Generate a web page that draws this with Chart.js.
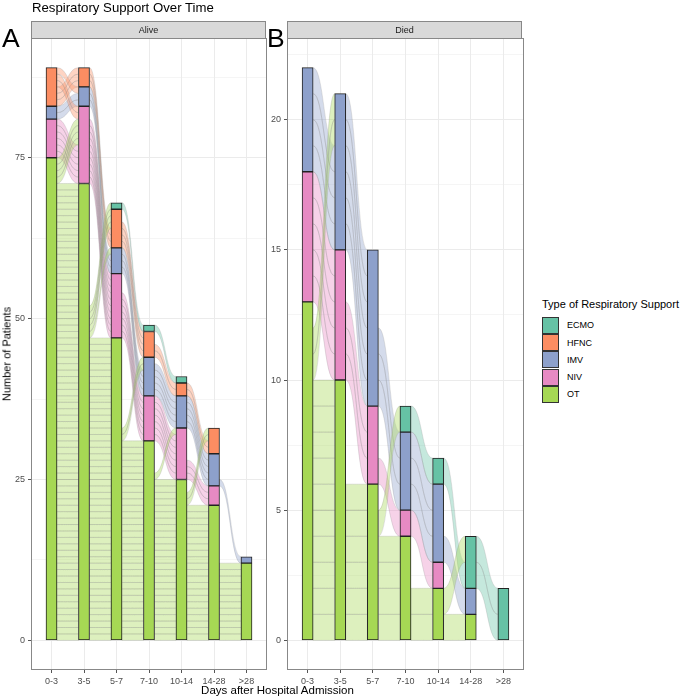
<!DOCTYPE html>
<html>
<head>
<meta charset="utf-8">
<script src="https://cdn.jsdelivr.net/npm/chart.js@4.4.1/dist/chart.umd.min.js"></script>
<style>
body { margin: 0; background: #fff; font-family: "Liberation Sans", Arial, sans-serif; }
#wrap { position: relative; width: 693px; height: 700px; overflow: hidden; }
.abs { position: absolute; line-height: 1; white-space: nowrap; }
.strip { position: absolute; top: 21px; height: 18px; width: 235px; box-sizing: border-box;
  background: #d9d9d9; border: 1px solid #888; display: flex; align-items: center;
  justify-content: center; font-size: 9px; color: #1a1a1a; }
.tag { font-size: 26.5px; color: #000; }
.key { position: absolute; left: 542px; width: 17px; height: 17px; box-sizing: border-box; border: 1px solid #333; }
.keylab { position: absolute; left: 567px; height: 17px; display: flex; align-items: center; font-size: 9px; color: #000; }
canvas { position: absolute; top: 0; }
</style>
</head>
<body>
<div id="wrap">
  <canvas id="alive" width="272" height="700" style="left:0px"></canvas>
  <canvas id="died" width="272" height="700" style="left:256px"></canvas>
  <div class="abs" style="left:32px;top:1.3px;font-size:13.2px;color:#000">Respiratory Support Over Time</div>
  <div class="abs tag" style="left:2px;top:24.5px">A</div>
  <div class="abs tag" style="left:267px;top:24.5px">B</div>
  <div class="strip" style="left:31px">Alive</div>
  <div class="strip" style="left:287px">Died</div>
  <div class="abs" style="left:7px;top:354px;font-size:11px;transform:translate(-50%,-50%) rotate(-90deg)">Number of Patients</div>
  <div class="abs" style="left:277.5px;top:685.3px;font-size:11.5px;transform:translateX(-50%)">Days after Hospital Admission</div>
  <div id="legend"></div>
</div>
<script>
const categories = ['0-3', '3-5', '5-7', '7-10', '10-14', '14-28', '>28'];
const supportTypes = ['OT', 'NIV', 'IMV', 'HFNC', 'ECMO']; // bottom to top
const legendTypes = ['ECMO', 'HFNC', 'IMV', 'NIV', 'OT'];
const typeColors = { ECMO: '#66C2A5', HFNC: '#FC8D62', IMV: '#8DA0CB', NIV: '#E78AC3', OT: '#A6D854' };

// Alive panel
const aliveOT   = [75, 71, 47, 31, 25, 21, 12];
const aliveNIV  = [6, 12, 10, 7, 8, 3, 0];
const aliveIMV  = [2, 3, 4, 6, 5, 5, 1];
const aliveHFNC = [6, 3, 6, 4, 2, 4, 0];
const aliveECMO = [0, 0, 1, 1, 1, 0, 0];

// Died panel
const diedOT   = [13, 10, 6, 4, 2, 1, 0];
const diedNIV  = [5, 5, 3, 1, 1, 0, 0];
const diedIMV  = [4, 6, 6, 3, 3, 1, 0];
const diedHFNC = [0, 0, 0, 0, 0, 0, 0];
const diedECMO = [0, 0, 0, 1, 1, 2, 2];

const aliveMajorTicks = [0, 25, 50, 75];
const aliveMinorTicks = [12.5, 37.5, 62.5, 87.5];
const diedMajorTicks = [0, 5, 10, 15, 20];
const diedMinorTicks = [2.5, 7.5, 12.5, 17.5, 22.5];

const alive = { OT: aliveOT, NIV: aliveNIV, IMV: aliveIMV, HFNC: aliveHFNC, ECMO: aliveECMO };
const died = { OT: diedOT, NIV: diedNIV, IMV: diedIMV, HFNC: diedHFNC, ECMO: diedECMO };

const barWidth = 11;

function rgba(hex, a) {
    const n = parseInt(hex.slice(1), 16);
    return `rgba(${n >> 16},${(n >> 8) & 255},${n & 255},${a})`;
}

// one slot per patient in a column, bottom to top
function slots(series, col) {
    const out = [];
    let y = 0;
    supportTypes.forEach(t => {
        for (let k = 0; k < series[t][col]; k++) out.push({ type: t, y: y++ });
    });
    return out;
}

// pair patients between neighbouring columns: same type first, then the rest in order
function buildFlows(series) {
    const flows = [];
    for (let i = 0; i < categories.length - 1; i++) {
        const left = slots(series, i);
        const right = slots(series, i + 1);
        const usedL = left.map(() => false);
        const usedR = right.map(() => false);
        supportTypes.forEach(t => {
            const L = left.map((s, k) => k).filter(k => left[k].type === t);
            const R = right.map((s, k) => k).filter(k => right[k].type === t);
            for (let k = 0; k < Math.min(L.length, R.length); k++) {
                usedL[L[k]] = true; usedR[R[k]] = true;
                flows.push({ col: i, type: t, y0: left[L[k]].y, y1: right[R[k]].y });
            }
        });
        const remL = left.filter((s, k) => !usedL[k]);
        const remR = right.filter((s, k) => !usedR[k]);
        for (let k = 0; k < Math.min(remL.length, remR.length); k++) {
            flows.push({ col: i, type: remL[k].type, y0: remL[k].y, y1: remR[k].y });
        }
    }
    return flows;
}

const flowPlugin = {
    id: 'flows',
    beforeDatasetsDraw(chart) {
        const flows = chart.options.plugins.flows.list;
        const xs = chart.scales.x, ys = chart.scales.y;
        const ctx = chart.ctx;
        ctx.save();
        flows.forEach(f => {
            const x0 = xs.getPixelForValue(f.col + 1) + barWidth / 2;
            const x1 = xs.getPixelForValue(f.col + 2) - barWidth / 2;
            const xm = (x0 + x1) / 2;
            const a0 = ys.getPixelForValue(f.y0), b0 = ys.getPixelForValue(f.y0 + 1);
            const a1 = ys.getPixelForValue(f.y1), b1 = ys.getPixelForValue(f.y1 + 1);
            ctx.beginPath();
            ctx.moveTo(x0, b0);
            ctx.bezierCurveTo(xm, b0, xm, b1, x1, b1);
            ctx.lineTo(x1, a1);
            ctx.bezierCurveTo(xm, a1, xm, a0, x0, a0);
            ctx.closePath();
            ctx.fillStyle = rgba(typeColors[f.type], 0.38);
            ctx.fill();
            ctx.strokeStyle = 'rgba(140,140,140,0.4)';
            ctx.lineWidth = 0.6;
            ctx.stroke();
        });
        ctx.restore();
    },
    afterDraw(chart) {
        const a = chart.chartArea;
        const ctx = chart.ctx;
        ctx.save();
        ctx.strokeStyle = '#888';
        ctx.lineWidth = 1;
        ctx.strokeRect(a.left - 0.5, a.top - 0.5, a.right - a.left + 1, a.bottom - a.top + 1);
        ctx.restore();
    }
};

function makePanel(canvasId, series, yMax, majorTicks, minorTicks, rightPad) {
    const datasets = supportTypes.map(t => ({
        label: t,
        data: series[t].map((v, i) => ({ x: i + 1, y: v > 0 ? v : null })),
        backgroundColor: typeColors[t],
        borderColor: '#222',
        borderWidth: 1,
        borderSkipped: false,
        barThickness: barWidth
    }));
    const isMajor = v => majorTicks.includes(v);
    return new Chart(document.getElementById(canvasId), {
        type: 'bar',
        data: { datasets },
        plugins: [flowPlugin],
        options: {
            responsive: false,
            animation: false,
            devicePixelRatio: 1,
            layout: { padding: { top: 39, right: rightPad, left: 0, bottom: 0 } },
            plugins: {
                legend: { display: false },
                tooltip: { enabled: false },
                flows: { list: buildFlows(series) }
            },
            scales: {
                x: {
                    type: 'linear',
                    stacked: true,
                    offset: false,
                    min: 0.4,
                    max: categories.length + 0.6,
                    afterBuildTicks: s => { s.ticks = categories.map((c, i) => ({ value: i + 1 })); },
                    afterFit: s => { s.height = 31; },
                    border: { display: false },
                    grid: { offset: false, color: '#ebebeb', lineWidth: 1, tickLength: 4, tickColor: '#555' },
                    ticks: {
                        autoSkip: false, maxRotation: 0, padding: 3,
                        color: '#4d4d4d', font: { family: 'Liberation Sans', size: 9 },
                        callback: v => categories[v - 1]
                    }
                },
                y: {
                    stacked: true,
                    min: -yMax * 0.05,
                    max: yMax * 1.05,
                    afterBuildTicks: s => {
                        s.ticks = majorTicks.concat(minorTicks).sort((a, b) => a - b).map(v => ({ value: v }));
                    },
                    afterFit: s => { s.width = 32; },
                    border: { display: false },
                    grid: {
                        color: '#ebebeb',
                        lineWidth: c => (c.tick && isMajor(c.tick.value)) ? 1 : 0.5,
                        tickLength: 4,
                        tickColor: c => (c.tick && isMajor(c.tick.value)) ? '#555' : 'rgba(0,0,0,0)'
                    },
                    ticks: {
                        padding: 3,
                        color: '#4d4d4d', font: { family: 'Liberation Sans', size: 9 },
                        callback: v => isMajor(v) ? String(v) : ''
                    }
                }
            }
        }
    });
}

makePanel('alive', alive, 89, aliveMajorTicks, aliveMinorTicks, 6);
makePanel('died', died, 22, diedMajorTicks, diedMinorTicks, 5);

// legend
const legend = document.getElementById('legend');
const title = document.createElement('div');
title.className = 'abs';
title.style.cssText = 'left:542px;top:298.7px;font-size:11px;color:#000';
title.textContent = 'Type of Respiratory Support';
legend.appendChild(title);
legendTypes.forEach((t, i) => {
    const top = 316.7 + i * 17.3;
    const key = document.createElement('div');
    key.className = 'key';
    key.style.top = top + 'px';
    key.style.background = typeColors[t];
    legend.appendChild(key);
    const lab = document.createElement('div');
    lab.className = 'keylab';
    lab.style.top = top + 'px';
    lab.textContent = t;
    legend.appendChild(lab);
});
</script>
</body>
</html>
